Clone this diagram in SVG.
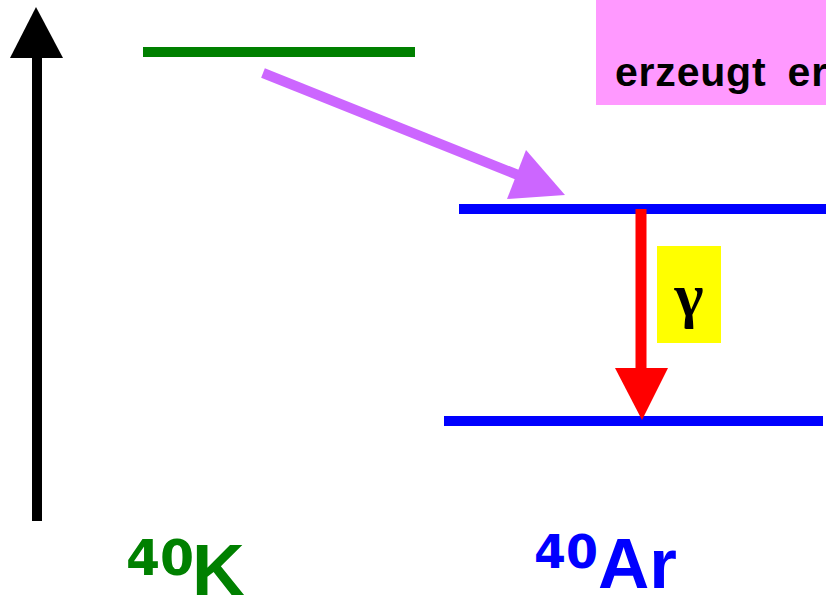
<svg xmlns="http://www.w3.org/2000/svg" width="826" height="597" viewBox="0 0 826 597">
<style>
.lvl{stroke-width:10;fill:none}
.lbl{font-family:"Liberation Sans",Arial,sans-serif;font-weight:bold}
.sup{font-family:"DejaVu Sans",sans-serif;font-weight:bold}
</style>
<rect width="826" height="597" fill="#ffffff"/>
<g id="axis">
<line x1="37" y1="521" x2="37" y2="55" stroke="#000" stroke-width="10"/>
<polygon points="36,7 10,58 63,58" fill="#000"/>
</g>
<g id="note">
<rect x="596" y="0" width="240" height="105" fill="#ff99ff"/>
<text x="615" y="86" class="lbl" font-size="41" letter-spacing="0.8" word-spacing="9" fill="#000">erzeugt er</text>
</g>
<g id="K40">
<line x1="143" y1="52" x2="415" y2="52" class="lvl" stroke="#008000"/>
<text x="126" y="575" class="sup" font-size="49" fill="#008000">40</text>
<text x="192" y="595" class="lbl" font-size="73" fill="#008000">K</text>
</g>
<g id="Ar40">
<line x1="459" y1="209" x2="826" y2="209" class="lvl" stroke="#0000ff"/>
<line x1="444" y1="421" x2="823" y2="421" class="lvl" stroke="#0000ff"/>
<text x="534" y="568" class="sup" font-size="46" fill="#0000ff">40</text>
<text x="598" y="588" class="lbl" font-size="71" fill="#0000ff">Ar</text>
</g>
<g id="gamma">
<rect x="657" y="246" width="64" height="97" fill="#ffff00"/>
<text x="689" y="316" text-anchor="middle" font-family="Liberation Serif,serif" font-weight="bold" font-size="62" fill="#000">γ</text>
</g>
<g id="connectors">
<line x1="263" y1="73" x2="518" y2="175" stroke="#cc66ff" stroke-width="10"/>
<polygon points="526,150 565,195 507,199" fill="#cc66ff"/>
<line x1="641" y1="209" x2="641" y2="372" stroke="#ff0000" stroke-width="11"/>
<polygon points="615,368 668,368 642,420" fill="#ff0000"/>
</g>
</svg>
